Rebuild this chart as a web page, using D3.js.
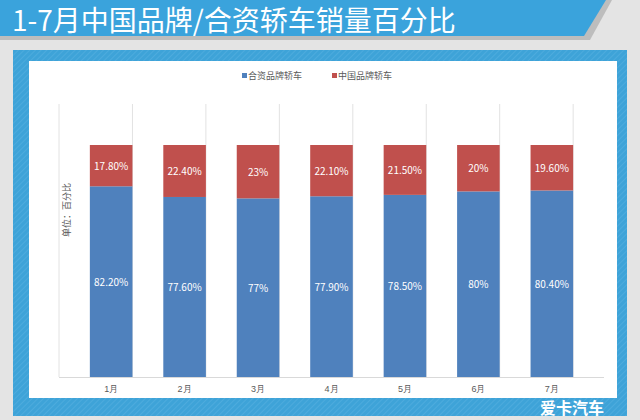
<!DOCTYPE html>
<html><head><meta charset="utf-8">
<script src="https://cdn.jsdelivr.net/npm/d3@7"></script>
<style>body{margin:0;background:#e4e4e4;font-family:"Noto Sans CJK SC",sans-serif}</style>
</head><body>
<svg id="c" width="640" height="420"></svg>
<script>
const months = ["1月","2月","3月","4月","5月","6月","7月"];
const jointVenture = [82.2, 77.6, 77, 77.9, 78.5, 80, 80.4];
const chinese = [17.8, 22.4, 23, 22.1, 21.5, 20, 19.6];
const jvLabels = ["82.20%","77.60%","77%","77.90%","78.50%","80%","80.40%"];
const cnLabels = ["17.80%","22.40%","23%","22.10%","21.50%","20%","19.60%"];

const svg = d3.select("#c");
const defs = svg.append("defs");
const pat = defs.append("pattern").attr("id","hatch").attr("width",4).attr("height",4)
  .attr("patternUnits","userSpaceOnUse").attr("patternTransform","rotate(45)");
pat.append("rect").attr("width",4).attr("height",4).attr("fill","#3ea3d8");
pat.append("line").attr("x1",0).attr("y1",0).attr("x2",0).attr("y2",4).attr("stroke","#5cb4e2").attr("stroke-width",1);

// title band
svg.append("path").attr("d","M0,0H612L590,40H0Z").attr("fill","#bdbdbd");
svg.append("path").attr("d","M0,0H606L584,36H0Z").attr("fill","#3aa3dc");
svg.append("text").attr("x",12).attr("y",31).attr("fill","#fff").attr("font-size",28)
  .text("1-7月中国品牌/合资轿车销量百分比");

// frame
svg.append("rect").attr("x",13).attr("y",50).attr("width",614).attr("height",366).attr("fill","url(#hatch)");
svg.append("rect").attr("x",29).attr("y",61).attr("width",588).attr("height",337).attr("fill","#fff");

const x = d3.scaleBand().domain(months).range([59,604]).padding(0.42);
const y = d3.scaleLinear().domain([0,100]).range([377,145]);

const step = x.step();
svg.append("g").selectAll("line").data(d3.range(months.length+1)).join("line")
  .attr("x1",i=>59+i*step).attr("x2",i=>59+i*step).attr("y1",104).attr("y2",377)
  .attr("stroke","#e2e2e2");
svg.append("line").attr("x1",59).attr("x2",604).attr("y1",377.5).attr("y2",377.5).attr("stroke","#d9d9d9");

const g = svg.append("g");
g.selectAll(".jv").data(months).join("rect")
  .attr("x",d=>x(d)).attr("width",x.bandwidth())
  .attr("y",(d,i)=>y(jointVenture[i])).attr("height",(d,i)=>y(0)-y(jointVenture[i]))
  .attr("fill","#4f81bd");
g.selectAll(".cn").data(months).join("rect")
  .attr("x",d=>x(d)).attr("width",x.bandwidth())
  .attr("y",(d,i)=>y(jointVenture[i]+chinese[i])).attr("height",(d,i)=>y(jointVenture[i])-y(jointVenture[i]+chinese[i]))
  .attr("fill","#c0504d");

const lab = svg.append("g").attr("fill","#fff").attr("font-size",10).attr("text-anchor","middle");
months.forEach((m,i)=>{
  const cx = x(m)+x.bandwidth()/2;
  lab.append("text").attr("x",cx).attr("y",y(jointVenture[i]/2)+4).text(jvLabels[i]);
  lab.append("text").attr("x",cx).attr("y",y(jointVenture[i]+chinese[i]/2)+4).text(cnLabels[i]);
});

const ax = svg.append("g").attr("transform","translate(0,377)")
  .call(d3.axisBottom(x).tickSize(0).tickPadding(9));
ax.select(".domain").remove();
ax.selectAll("text").attr("fill","#595959").attr("font-size",9);

svg.append("text").attr("transform","translate(70,210) rotate(-90)").attr("text-anchor","middle")
  .attr("font-size",9).attr("fill","#595959").text("单位：百分比");

const leg = svg.append("g").attr("font-size",9).attr("fill","#595959");
[["合资品牌轿车","#4f81bd",242],["中国品牌轿车","#c0504d",332]].forEach(([t,c,lx])=>{
  leg.append("rect").attr("x",lx).attr("y",73).attr("width",5).attr("height",5).attr("fill",c);
  leg.append("text").attr("x",lx+6).attr("y",79).text(t);
});

svg.append("text").attr("x",540).attr("y",414).attr("fill","#fff").attr("font-size",16)
  .attr("font-weight","bold").text("爱卡汽车");
</script>
</body></html>
